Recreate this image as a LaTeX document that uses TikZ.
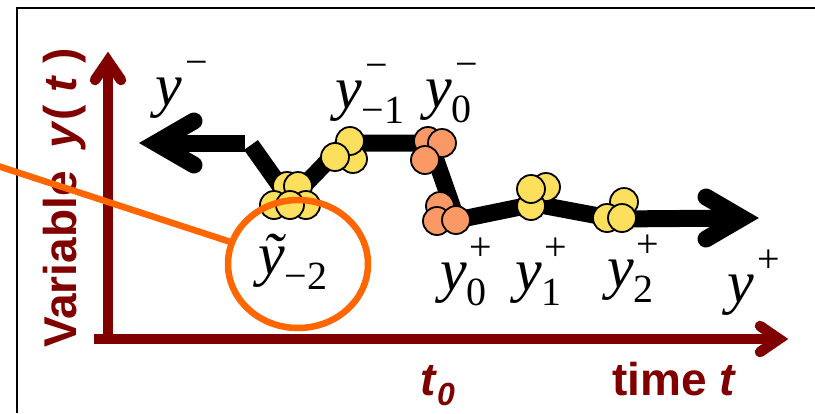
\documentclass[tikz,border=0pt]{standalone}
\usepackage{fontspec}
\setmainfont{Liberation Serif}
\newfontfamily\timesf{Liberation Serif}
\newfontfamily\arialf{Liberation Sans}
\usetikzlibrary{shapes.geometric}
\definecolor{maroonc}{RGB}{128,0,0}
\definecolor{dotyel}{RGB}{252,223,92}
\definecolor{dotora}{RGB}{250,153,102}
\definecolor{ringora}{RGB}{255,102,0}
\newcommand\ylab[4]{{\timesf\fontsize{60}{60}\selectfont\itshape #1}\rlap{\hspace{#4}\raisebox{30pt}{\timesf\fontsize{40}{40}\selectfont #2}}\raisebox{-15pt}{\timesf\fontsize{40}{40}\selectfont #3}}
\begin{document}
\begin{tikzpicture}[x=1pt,y=-1pt,
  blk/.style={line width=17pt, black},
  blkhead/.style={line width=17pt, black, line cap=round, line join=miter},
  axis/.style={line width=10.5pt, maroonc},
  axhead/.style={line width=10.5pt, maroonc, line cap=round, line join=miter},
  ydot/.style={circle, draw=black, line width=1.8pt, fill=dotyel, minimum size=28pt, inner sep=0pt},
  odot/.style={circle, draw=black, line width=1.8pt, fill=dotora, minimum size=28pt, inner sep=0pt},
  lab/.style={anchor=base west, inner sep=0pt, font=\timesf},
  axtxt/.style={inner sep=0pt, text=maroonc, font=\arialf\bfseries\fontsize{46}{46}\selectfont}]
\useasboundingbox (0,0) rectangle (815,413);
% frame
\draw[line width=2.5pt] (17,413) -- (17,8) -- (815,8);
% axes
\coordinate (xa0) at (94,339);
\coordinate (xav) at (779,339);
\coordinate (xau) at (760,326);
\coordinate (xal) at (760,352);
\coordinate (ya0) at (108,336);
\coordinate (yav) at (108,61);
\coordinate (yal) at (95,80);
\coordinate (yar) at (121,80);
\draw[axis] (xa0) -- (xav);
\draw[axhead] (xau) -- (xav) -- (xal);
\draw[axis] (ya0) -- (yav);
\draw[axhead] (yal) -- (yav) -- (yar);
% axis texts
\node[axtxt, rotate=90, anchor=base west] (ylabel) at (76,348) {Variable\hspace{0.5em}\textit{y}( \textit{t} )};
\node[axtxt, anchor=base west] (tzero) at (420,395) {\textit{t}\raisebox{-10pt}{\fontsize{32}{32}\selectfont\textit{0}}};
\node[axtxt, anchor=base west] (timet) at (612,395) {time \textit{t}};
% black path points
\coordinate (lv) at (156,143);
\coordinate (lu) at (194,121);
\coordinate (ll) at (194,165);
\coordinate (lh) at (245,143);
\coordinate (p1) at (251,145);
\coordinate (pA) at (290,200);
\coordinate (pB) at (345,143);
\coordinate (pC) at (430,143);
\coordinate (pD) at (457,220);
\coordinate (pE) at (535,204);
\coordinate (pF) at (615,219);
\coordinate (rv) at (742,218);
\coordinate (ru) at (706,197);
\coordinate (rl) at (706,239);
\draw[blk] (lv) -- (lh);
\draw[blkhead] (lu) -- (lv) -- (ll);
\draw[blk, line join=round] (p1) -- (pA) -- (pB) -- (pC) -- (pD) -- (pE) -- (pF) -- (rv);
\draw[blkhead] (ru) -- (rv) -- (rl);
% cluster A
\node[ydot] (a1) at (287,186) {};
\node[ydot] (a2) at (298,186) {};
\node[ydot] (a3) at (274,205) {};
\node[ydot] (a4) at (306,205) {};
\node[ydot] (a5) at (290,205) {};
% cluster B
\node[ydot] (b1) at (353,159) {};
\node[ydot] (b2) at (350,141) {};
\node[ydot] (b3) at (335,157) {};
% cluster C
\node[odot] (c1) at (428,141) {};
\node[odot] (c2) at (442,143) {};
\node[odot] (c3) at (425,160) {};
% cluster D
\node[odot] (d1) at (440,206) {};
\node[odot] (d2) at (437,221) {};
\node[odot] (d3) at (456,220) {};
% cluster E
\node[ydot] (e1) at (546,187) {};
\node[ydot] (e2) at (531,206) {};
\node[ydot] (e3) at (531,189) {};
% cluster F
\node[ydot] (f1) at (624,202) {};
\node[ydot] (f2) at (607,218) {};
\node[ydot] (f3) at (622,218) {};
% labels
\node[lab] (lym) at (155,105) {\ylab{y}{−}{}{4pt}};
\node[lab] (lym1) at (335,108) {\ylab{y}{−}{−1}{4pt}};
\node[lab] (ly0m) at (425,107) {\ylab{y}{−}{0}{4pt}};
\node[lab] (lyt2) at (258,274) {\ylab{ỹ}{}{−2}{4pt}};
\node[lab] (ly0p) at (440,290) {\ylab{y}{+}{0}{3pt}};
\node[lab] (ly1p) at (515,290) {\ylab{y}{+}{1}{3pt}};
\node[lab] (ly2p) at (607,287) {\ylab{y}{+}{2}{3pt}};
\node[lab] (lyp) at (727,302) {\ylab{y}{+}{}{4pt}};
% orange ring and pointer
\node[ellipse, draw=ringora, line width=6.5pt, minimum width=140pt, minimum height=128pt, inner sep=0pt] (ring) at (298,264) {};
\coordinate (pend) at (-2,166);
\draw[ringora, line width=6.5pt] (pend) -- (ring);
\end{tikzpicture}
\end{document}
